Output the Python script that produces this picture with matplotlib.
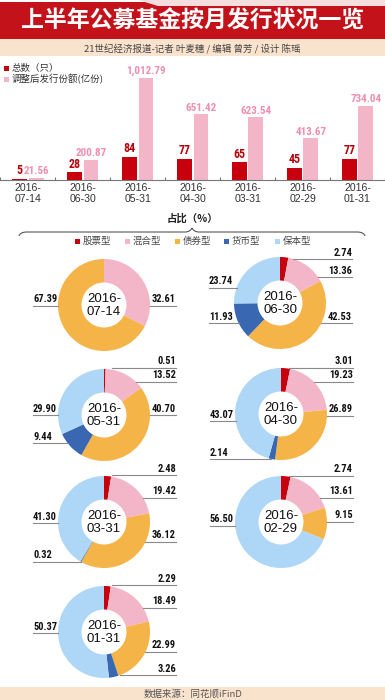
import matplotlib
matplotlib.use('Agg')
import matplotlib.pyplot as plt
from matplotlib.patches import Rectangle, Polygon, PathPatch
from matplotlib.path import Path
from matplotlib import font_manager
import numpy as np

plt.rcParams['font.family'] = ['Noto Sans CJK SC', 'DejaVu Sans']

# ---- data ----
months = ['2016-07-14', '2016-06-30', '2016-05-31', '2016-04-30',
          '2016-03-31', '2016-02-29', '2016-01-31']
fund_count = [5, 28, 84, 77, 65, 45, 77]
issue_share = [21.56, 200.87, 1012.79, 651.42, 623.54, 413.67, 734.04]

fund_types = ['股票型', '混合型', '债券型', '货币型', '保本型']
pct_0714 = [0, 32.61, 67.39, 0, 0]
pct_0630 = [2.74, 13.36, 42.53, 11.93, 23.74]
pct_0531 = [0.51, 13.52, 40.70, 9.44, 29.90]
pct_0430 = [3.01, 19.23, 26.89, 2.14, 43.07]
pct_0331 = [2.48, 19.42, 36.12, 0.32, 41.30]
pct_0229 = [2.74, 13.61, 9.15, 0, 56.50]
pct_0131 = [2.29, 18.49, 22.99, 3.26, 50.37]
pct_all = [pct_0714, pct_0630, pct_0531, pct_0430, pct_0331, pct_0229, pct_0131]

# ---- layout (pixels, image coords: y down) ----
W, H = 385, 700
C_RED = '#c8000d'
C_PINK = '#f3b6c9'
C_ORANGE = '#f5b447'
C_BLUE = '#3a67b2'
C_LBLUE = '#aed6f7'
type_colors = [C_RED, C_PINK, C_ORANGE, C_BLUE, C_LBLUE]
BEIGE = '#fae3cd'

# narrowest bold face available for the numbers
names = {f.name for f in font_manager.fontManager.ttflist}
NUM_KW = dict(fontweight='bold')
NUM_SCALE = 0.88
for fam, sc in [('Roboto Condensed', 1.0), ('Liberation Sans Narrow', 1.0),
                ('Roboto', 0.88), ('Liberation Sans', 0.86)]:
    if fam in names:
        NUM_KW['family'] = [fam, 'DejaVu Sans']
        NUM_SCALE = sc
        break

donut_centers = [(104, 305), (280, 303), (104, 415), (281, 414),
                 (104, 522), (281, 522), (104, 632)]
R = 46
# side and leader-line offset (dy) for each category label
label_pos = [
    [None, ('R', 1), ('L', 1), None, None],
    [('R', -44), ('R', -26), ('R', 20), ('L', 20), ('L', -15)],
    [('R', -47), ('R', -33), ('R', 0), ('L', 28), ('L', 0)],
    [('R', -46), ('R', -32), ('R', 2), ('L', 45), ('L', 7)],
    [('R', -47), ('R', -24), ('R', 20), ('L', 40), ('L', 1)],
    [('R', -46), ('R', -24), ('R', 0), None, ('L', 4)],
    [('R', -47), ('R', -24), ('R', 20), ('R', 43), ('L', 1)],
]


def Y(y):
    return H - y


fig = plt.figure(figsize=(W / 100, H / 100), dpi=100, facecolor='white')
ax = fig.add_axes([0, 0, 1, 1])
ax.axis('off')

# header bands
ax.add_patch(Rectangle((0, Y(39)), W, 37, color='#c4121b', lw=0, zorder=0))
ax.add_patch(Polygon([(138, Y(0)), (W, Y(0)), (W, Y(6)), (158, Y(6))],
                     closed=True, color='#f6dede', lw=0, zorder=1))
ax.add_patch(Rectangle((0, Y(56)), W, 17, color=BEIGE, lw=0, zorder=0))
ax.text(W / 2, Y(21), '上半年公募基金按月发行状况一览', color='white',
        fontsize=16.5, fontweight='heavy', ha='center', va='center')
ax.text(W / 2, Y(49), '21世纪经济报道-记者 叶麦穗 / 编辑 曾芳 / 设计 陈瑶',
        color='#444444', fontsize=6.8, ha='center', va='center')

# footer
ax.add_patch(Rectangle((0, 0), W, Y(687), color=BEIGE, lw=0, zorder=0))
ax.text(W / 2, Y(694), '数据来源：同花顺iFinD', color='#555555', fontsize=6.8,
        ha='center', va='center')

# bar legend
ax.add_patch(Rectangle((4, Y(71)), 5, 5, color=C_RED, lw=0))
ax.text(12, Y(68.5), '总数（只）', fontsize=6.8, color='#333333', va='center')
ax.add_patch(Rectangle((4, Y(82)), 5, 5, color=C_PINK, lw=0))
ax.text(12, Y(79.5), '调整后发行份额(亿份)', fontsize=6.8, color='#333333', va='center')

# share header + brace
ax.text(W / 2, Y(219), '占比（%）', fontsize=7.5, fontweight='bold',
        color='#222222', ha='center', va='center')
verts = [(19, 236), (20, 232), (27, 232), (27, 232),
         (185, 232), (190, 232), (192, 228),
         (194, 232), (199, 232), (357, 232),
         (364, 232), (365, 236)]
verts = [(x, Y(y)) for x, y in verts]
codes = [Path.MOVETO, Path.CURVE3, Path.CURVE3, Path.LINETO,
         Path.LINETO, Path.CURVE3, Path.CURVE3,
         Path.CURVE3, Path.CURVE3, Path.LINETO,
         Path.CURVE3, Path.CURVE3]
ax.add_patch(PathPatch(Path(verts, codes), fc='none', ec='#555555', lw=0.8))

leg_x = [75, 125, 175, 224, 275]
for lx, name, col in zip(leg_x, fund_types, type_colors):
    ax.add_patch(Rectangle((lx, Y(243.5)), 5, 5, color=col, lw=0))
    ax.text(lx + 8, Y(241), name, fontsize=6.8, color='#444444', va='center')

# donuts
for (cx, cy), vals, lp, m in zip(donut_centers, pct_all, label_pos, months):
    ax.pie(vals, colors=type_colors, center=(cx, Y(cy)), radius=R,
           startangle=90, counterclock=False,
           wedgeprops=dict(width=R - 22.5, linewidth=0))
    y1, m2 = m.split('-', 1)
    ax.text(cx, Y(cy) - 0.5, y1 + '-\n' + m2, fontsize=9.5, ha='center', va='center',
            family=['Liberation Sans', 'DejaVu Sans'], color='#111111',
            linespacing=1.05)
    for v, p in zip(vals, lp):
        if p is None:
            continue
        side, dy = p
        yl = Y(cy + dy)
        reach = np.sqrt(max(R * R - dy * dy, 60.0))
        if side == 'R':
            x0, x1 = cx + reach, cx + 72
            ax.plot([x0, x1], [yl, yl], color='#8a8a8a', lw=0.8)
            ax.text(x1, yl + 1.5, f'{v:.2f}', ha='right', va='bottom',
                    fontsize=7.5 * NUM_SCALE, color='#111111', **NUM_KW)
        else:
            x0, x1 = cx - 71, cx - reach
            ax.plot([x0, x1], [yl, yl], color='#8a8a8a', lw=0.8)
            ax.text(x0, yl + 1.5, f'{v:.2f}', ha='left', va='bottom',
                    fontsize=7.5 * NUM_SCALE, color='#111111', **NUM_KW)

ax.set_aspect('auto')
ax.set_xlim(0, W)
ax.set_ylim(0, H)

# ---- bar chart ----
top, bot = 58, 180
axb = fig.add_axes([0, Y(bot) / H, 1, (bot - top) / H])
axb.patch.set_alpha(0)
axr = axb.twinx()
axr.patch.set_alpha(0)

x = np.arange(len(months))
off, bw = 0.15, 0.27
axb.bar(x + off, issue_share, width=bw, color=C_PINK, lw=0)
axr.bar(x - off, fund_count, width=bw, color=C_RED, lw=0)
for xi, v in zip(x, issue_share):
    axb.annotate(f'{v:,.2f}', (xi + off, v), xytext=(0, 1.2), textcoords='offset points',
                 ha='center', va='bottom', fontsize=8 * NUM_SCALE,
                 color='#ee8fae', **NUM_KW)
for xi, v in zip(x, fund_count):
    axr.annotate(str(v), (xi - off, v), xytext=(0, 1.2), textcoords='offset points',
                 ha='center', va='bottom', fontsize=8.6 * NUM_SCALE,
                 color='#b5000c', **NUM_KW)

xl = (-28 / 55.17, (W - 28) / 55.17)
axb.set_xlim(*xl)
axb.set_ylim(0, 1211)
axr.set_ylim(0, 445)
for a in (axb, axr):
    for s in ('top', 'left', 'right'):
        a.spines[s].set_visible(False)
    a.set_yticks([])
axr.spines['bottom'].set_visible(False)
axb.spines['bottom'].set_color('#777777')
axb.spines['bottom'].set_linewidth(0.8)
axb.set_xticks(x)
axb.set_xticklabels([m[:4] + '-\n' + m[5:] for m in months], fontsize=7.6,
                    color='#333333', family=['Liberation Sans', 'DejaVu Sans'])
axb.tick_params(axis='x', which='major', length=0, pad=2)
axb.set_xticks(np.arange(len(months) + 1) - 0.5, minor=True)
axb.tick_params(axis='x', which='minor', direction='in', length=2.5,
                color='#777777', width=0.8)

fig.savefig('out.png', dpi=100, facecolor='white')
